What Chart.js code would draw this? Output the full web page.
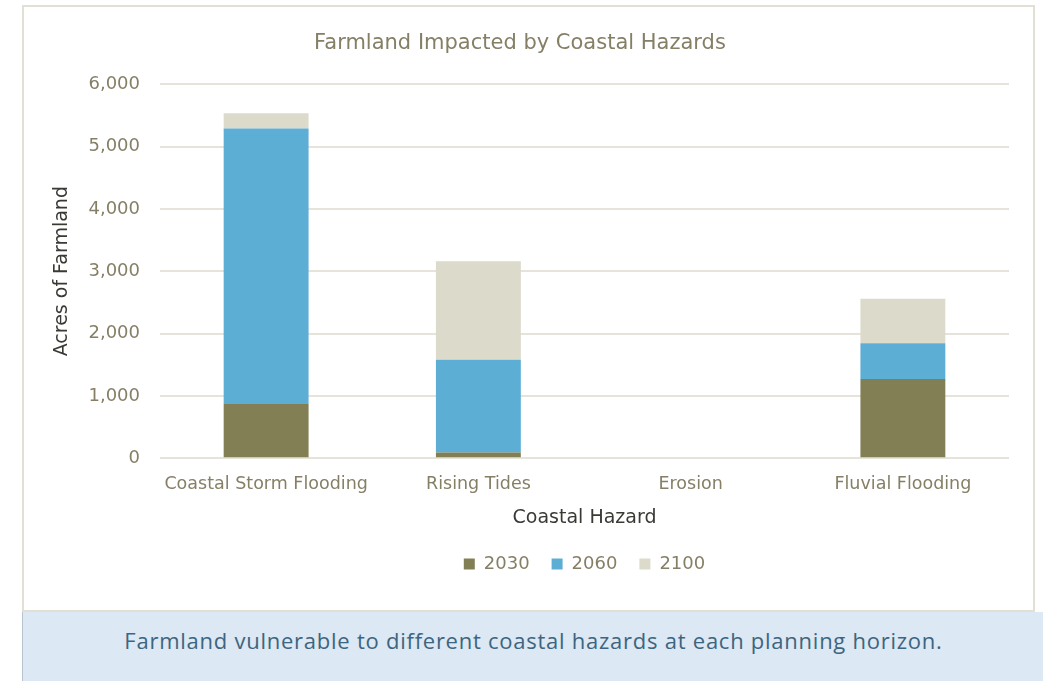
<!DOCTYPE html>
<html>
<head>
<meta charset="utf-8">
<script src="https://cdn.jsdelivr.net/npm/chart.js@4/dist/chart.umd.min.js"></script>
<style>
  body { margin: 0; background: #fff; width: 1043px; height: 681px; overflow: hidden; position: relative; }
  #frame {
    position: absolute; left: 22px; top: 5px; width: 1009px; height: 603px;
    border: 2px solid #e2dfd5; background: #fff;
  }
  #frame canvas { display: block; }
  #caption {
    position: absolute; left: 22px; top: 612px; width: 1021px; height: 69px;
    background: #dce8f3; border-left: 1px solid #b7c3cf;
    font-family: "Open Sans", sans-serif; font-size: 22px; color: #3d6580;
    text-align: center; line-height: 57px; letter-spacing: 0.75px;
  }
</style>
</head>
<body>
<div id="frame"><canvas id="chart" width="1009" height="603"></canvas></div>
<div id="caption">Farmland vulnerable to different coastal hazards at each planning horizon.</div>
<script>
const hazards = ["Coastal Storm Flooding", "Rising Tides", "Erosion", "Fluvial Flooding"];
const years = ["2030", "2060", "2100"];
const acres2030 = [870, 90, 0, 1270];
const acres2060 = [4420, 1490, 0, 575];
const acres2100 = [245, 1580, 0, 715];
const yTicks = [0, 1000, 2000, 3000, 4000, 5000, 6000];

const colors = ["#837f55", "#5daed4", "#dcdacb"];
const textColor = "#857f66";
const fontFamily = "'DejaVu Sans', sans-serif";

// legend sits under the plot area, title a touch left of centre
const placeBlocks = {
  id: "placeBlocks",
  afterLayout(chart) {
    const { legend, titleBlock, chartArea } = chart;
    legend.left = chartArea.left;
    legend.right = chartArea.right;
    titleBlock.left -= 10;
    titleBlock.right -= 10;
  }
};

new Chart(document.getElementById("chart").getContext("2d"), {
  type: "bar",
  data: {
    labels: hazards,
    datasets: [acres2030, acres2060, acres2100].map((values, i) => ({
      label: years[i],
      data: values,
      backgroundColor: colors[i],
      categoryPercentage: 1,
      barPercentage: 0.4
    }))
  },
  options: {
    responsive: false,
    animation: false,
    layout: { padding: { left: 27, right: 24, top: 0, bottom: 27 } },
    plugins: {
      title: {
        display: true,
        text: "Farmland Impacted by Coastal Hazards",
        color: textColor,
        font: { family: fontFamily, size: 21, weight: "normal" },
        padding: { top: 24, bottom: 28 }
      },
      legend: {
        position: "bottom",
        labels: {
          color: textColor,
          font: { family: fontFamily, size: 18 },
          boxWidth: 11,
          boxHeight: 11,
          padding: 22
        }
      },
      tooltip: { enabled: false }
    },
    scales: {
      x: {
        stacked: true,
        grid: { display: false },
        border: { display: false },
        ticks: {
          color: textColor,
          font: { family: fontFamily, size: 17.5 },
          padding: 8,
          maxRotation: 0,
          minRotation: 0,
          autoSkip: false
        },
        title: {
          display: true,
          text: "Coastal Hazard",
          color: "#3a3a35",
          font: { family: fontFamily, size: 19 },
          padding: { top: 3, bottom: 4 }
        }
      },
      y: {
        stacked: true,
        min: 0,
        max: 6000,
        afterBuildTicks: axis => { axis.ticks = yTicks.map(v => ({ value: v })); },
        afterFit: axis => { axis.width = 109; },
        grid: { color: "#e6e3da", lineWidth: 2, drawTicks: false },
        border: { display: false },
        ticks: {
          color: textColor,
          font: { family: fontFamily, size: 18 },
          padding: 20,
          callback: v => v.toLocaleString("en-US")
        },
        title: {
          display: true,
          text: "Acres of Farmland",
          color: "#3a3a35",
          font: { family: fontFamily, size: 19 },
          padding: 0
        }
      }
    }
  },
  plugins: [placeBlocks]
});
</script>
</body>
</html>
